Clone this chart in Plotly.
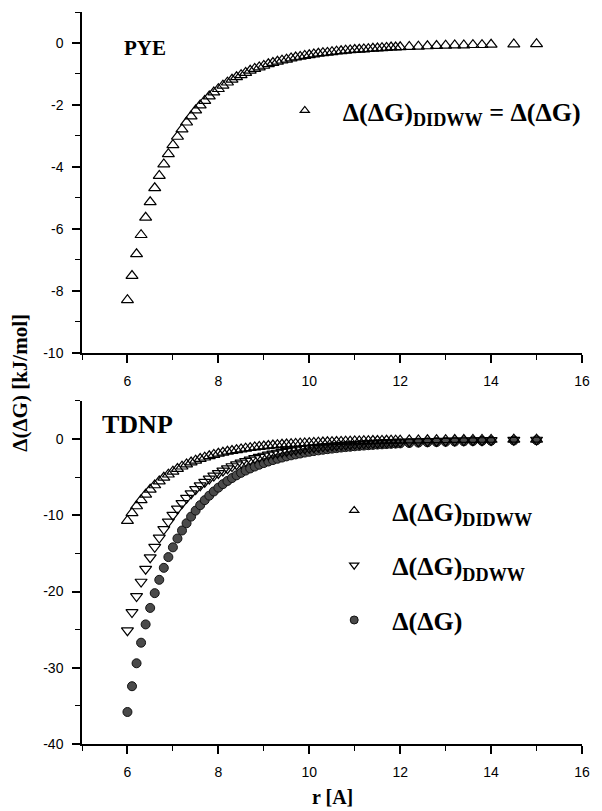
import plotly.graph_objects as go

# distance r [A]
r = [6.0, 6.1, 6.2, 6.3, 6.4, 6.5, 6.6, 6.7, 6.8, 6.9,
     7.0, 7.1, 7.2, 7.3, 7.4, 7.5, 7.6, 7.7, 7.8, 7.9,
     8.0, 8.1, 8.2, 8.3, 8.4, 8.5, 8.6, 8.7, 8.8, 8.9,
     9.0, 9.1, 9.2, 9.3, 9.4, 9.5, 9.6, 9.7, 9.8, 9.9,
     10.0, 10.1, 10.2, 10.3, 10.4, 10.5, 10.6, 10.7, 10.8, 10.9,
     11.0, 11.1, 11.2, 11.3, 11.4, 11.5, 11.6, 11.7, 11.8, 11.9,
     12.0, 12.2, 12.4, 12.6, 12.8, 13.0, 13.2, 13.4, 13.6, 13.8,
     14.0, 14.5, 15.0]

# PYE: d(dG)_DIDWW = d(dG)
pye = [-8.29, -7.51, -6.81, -6.19, -5.63, -5.13, -4.68, -4.28, -3.91, -3.58,
       -3.29, -3.02, -2.78, -2.56, -2.36, -2.17, -2.01, -1.86, -1.72, -1.59,
       -1.48, -1.37, -1.27, -1.18, -1.10, -1.03, -0.96, -0.89, -0.83, -0.78,
       -0.73, -0.68, -0.64, -0.60, -0.56, -0.53, -0.49, -0.46, -0.44, -0.41,
       -0.39, -0.36, -0.34, -0.32, -0.31, -0.29, -0.27, -0.26, -0.24, -0.23,
       -0.22, -0.21, -0.20, -0.19, -0.18, -0.17, -0.16, -0.15, -0.14, -0.14,
       -0.13, -0.12, -0.11, -0.10, -0.09, -0.08, -0.07, -0.07, -0.06, -0.06,
       -0.05, -0.04, -0.03]

# TDNP series
tdnp_didww = [-10.70, -9.69, -8.79, -7.98, -7.26, -6.62, -6.04, -5.52, -5.05, -4.63,
              -4.24, -3.90, -3.58, -3.30, -3.04, -2.80, -2.59, -2.40, -2.22, -2.05,
              -1.90, -1.77, -1.64, -1.53, -1.42, -1.32, -1.23, -1.15, -1.07, -1.00,
              -0.94, -0.88, -0.82, -0.77, -0.72, -0.68, -0.64, -0.60, -0.56, -0.53,
              -0.50, -0.47, -0.44, -0.42, -0.39, -0.37, -0.35, -0.33, -0.31, -0.30,
              -0.28, -0.27, -0.25, -0.24, -0.23, -0.22, -0.20, -0.19, -0.18, -0.18,
              -0.17, -0.15, -0.14, -0.12, -0.11, -0.10, -0.09, -0.09, -0.08, -0.07,
              -0.07, -0.05, -0.04]

tdnp_ddww = [-25.10, -22.73, -20.62, -18.73, -17.04, -15.53, -14.17, -12.95, -11.84, -10.85,
             -9.95, -9.14, -8.41, -7.74, -7.13, -6.58, -6.08, -5.62, -5.20, -4.82,
             -4.47, -4.15, -3.85, -3.58, -3.33, -3.11, -2.89, -2.70, -2.52, -2.36,
             -2.20, -2.06, -1.93, -1.81, -1.70, -1.59, -1.50, -1.41, -1.32, -1.24,
             -1.17, -1.10, -1.04, -0.98, -0.93, -0.87, -0.83, -0.78, -0.74, -0.70,
             -0.66, -0.63, -0.59, -0.56, -0.53, -0.51, -0.48, -0.46, -0.43, -0.41,
             -0.39, -0.36, -0.32, -0.29, -0.27, -0.24, -0.22, -0.20, -0.18, -0.17,
             -0.16, -0.13, -0.10]

tdnp_dg = [-35.80, -32.42, -29.41, -26.71, -24.31, -22.15, -20.21, -18.46, -16.89, -15.48,
           -14.20, -13.04, -11.99, -11.04, -10.17, -9.38, -8.67, -8.01, -7.42, -6.87,
           -6.37, -5.91, -5.49, -5.11, -4.75, -4.43, -4.13, -3.85, -3.60, -3.36,
           -3.14, -2.94, -2.75, -2.58, -2.42, -2.27, -2.13, -2.01, -1.89, -1.77,
           -1.67, -1.57, -1.48, -1.40, -1.32, -1.25, -1.18, -1.11, -1.05, -1.00,
           -0.94, -0.89, -0.85, -0.80, -0.76, -0.72, -0.69, -0.65, -0.62, -0.59,
           -0.56, -0.51, -0.46, -0.42, -0.38, -0.35, -0.32, -0.29, -0.26, -0.24,
           -0.22, -0.18, -0.15]

x_ticks = [6, 8, 10, 12, 14, 16]
x_labels = ["6", "8", "10", "12", "14", "16"]
top_y_ticks = [-10, -8, -6, -4, -2, 0]
top_y_labels = ["-10", "-8", "-6", "-4", "-2", "0"]
bot_y_ticks = [-40, -30, -20, -10, 0]
bot_y_labels = ["-40", "-30", "-20", "-10", "0"]

SERIF = "Liberation Serif, Times New Roman, serif"
SANS = "Liberation Sans, Arial, sans-serif"
LEG_FONT = dict(family=SERIF, size=26, color="black", weight="bold")

fig = go.Figure()

# top panel
fig.add_trace(go.Scatter(x=r, y=pye, mode="markers", xaxis="x", yaxis="y",
                         marker=dict(symbol="triangle-up-open", size=10.5, color="black",
                                     line=dict(width=1.2)),
                         showlegend=False))
fig.add_trace(go.Scatter(x=[None], y=[None], mode="markers", xaxis="x", yaxis="y",
                         marker=dict(symbol="triangle-up-open", size=8, color="black",
                                     line=dict(width=1.2)),
                         name="Δ(ΔG)<sub>DIDWW</sub> = Δ(ΔG)", legend="legend"))

# bottom panel
fig.add_trace(go.Scatter(x=r, y=tdnp_dg, mode="markers", xaxis="x2", yaxis="y2",
                         marker=dict(symbol="circle", size=9, color="#4a4a4a",
                                     line=dict(width=1, color="#111111")),
                         showlegend=False))
fig.add_trace(go.Scatter(x=r, y=tdnp_ddww, mode="markers", xaxis="x2", yaxis="y2",
                         marker=dict(symbol="triangle-down-open", size=10.5, color="black",
                                     line=dict(width=1.2)),
                         showlegend=False))
fig.add_trace(go.Scatter(x=r, y=tdnp_didww, mode="markers", xaxis="x2", yaxis="y2",
                         marker=dict(symbol="triangle-up-open", size=10.5, color="black",
                                     line=dict(width=1.2)),
                         showlegend=False))

fig.add_trace(go.Scatter(x=[None], y=[None], mode="markers", xaxis="x2", yaxis="y2",
                         marker=dict(symbol="triangle-up-open", size=8, color="black",
                                     line=dict(width=1.2)),
                         name="Δ(ΔG)<sub>DIDWW</sub>", legend="legend2", legendgroup="a"))
fig.add_trace(go.Scatter(x=[None], y=[None], mode="markers", xaxis="x2", yaxis="y2",
                         marker=dict(symbol="triangle-down-open", size=8, color="black",
                                     line=dict(width=1.2)),
                         name="Δ(ΔG)<sub>DDWW</sub>", legend="legend2", legendgroup="b"))
fig.add_trace(go.Scatter(x=[None], y=[None], mode="markers", xaxis="x2", yaxis="y2",
                         marker=dict(symbol="circle", size=8, color="#4a4a4a",
                                     line=dict(width=1, color="#111111")),
                         name="Δ(ΔG)", legend="legend2", legendgroup="c"))

axis_common = dict(showline=True, linecolor="black", linewidth=1.5, ticks="outside",
                   ticklen=8, tickwidth=1.5, tickcolor="black", showgrid=False,
                   zeroline=False, tickfont=dict(family=SANS, size=14, color="black"),
                   ticklabelstandoff=6)

fig.update_layout(
    width=602, height=811,
    margin=dict(l=82, r=14, t=12, b=67),
    paper_bgcolor="white", plot_bgcolor="white",
    xaxis=dict(domain=[0, 1], anchor="y", range=[5, 16], tickvals=x_ticks, ticktext=x_labels,
               minor=dict(dtick=1, tick0=5, ticks="outside", ticklen=5, tickwidth=1.2,
                          tickcolor="black", showgrid=False),
               **axis_common),
    yaxis=dict(domain=[0.5342, 1], anchor="x", range=[-10, 1], tickvals=top_y_ticks,
               ticktext=top_y_labels,
               minor=dict(dtick=1, tick0=0, ticks="outside", ticklen=5, tickwidth=1.2,
                          tickcolor="black", showgrid=False),
               **axis_common),
    xaxis2=dict(domain=[0, 1], anchor="y2", range=[5, 16], tickvals=x_ticks, ticktext=x_labels,
                minor=dict(dtick=1, tick0=5, ticks="outside", ticklen=5, tickwidth=1.2,
                           tickcolor="black", showgrid=False),
                **axis_common),
    yaxis2=dict(domain=[0, 0.4686], anchor="x2", range=[-40, 5], tickvals=bot_y_ticks,
                ticktext=bot_y_labels,
                minor=dict(dtick=5, tick0=0, ticks="outside", ticklen=5, tickwidth=1.2,
                           tickcolor="black", showgrid=False),
                **axis_common),
    legend=dict(x=0.3696, y=0.8975, xanchor="left", yanchor="top", font=LEG_FONT,
                bgcolor="rgba(0,0,0,0)", itemwidth=66, itemsizing="trace"),
    legend2=dict(x=0.4684, y=0.3511, xanchor="left", yanchor="top", font=LEG_FONT,
                 bgcolor="rgba(0,0,0,0)", itemwidth=66, itemsizing="trace",
                 tracegroupgap=18),
    annotations=[
        dict(text="PYE", x=0.0791, y=0.9508, xref="paper", yref="paper",
             xanchor="left", yanchor="middle", showarrow=False,
             font=dict(family=SERIF, size=21, color="black", weight="bold")),
        dict(text="TDNP", x=0.0356, y=0.4358, xref="paper", yref="paper",
             xanchor="left", yanchor="middle", showarrow=False,
             font=dict(family=SERIF, size=26, color="black", weight="bold")),
        dict(text="Δ(ΔG) [kJ/mol]", x=-0.1245, y=0.4932, xref="paper", yref="paper",
             xanchor="center", yanchor="middle", textangle=-90, showarrow=False,
             font=dict(family=SERIF, size=21, color="black", weight="bold")),
        dict(text="r [A]", x=0.5, y=-0.0724, xref="paper", yref="paper",
             xanchor="center", yanchor="middle", showarrow=False,
             font=dict(family=SERIF, size=20, color="black", weight="bold")),
    ],
)

fig.write_html("out.html")
